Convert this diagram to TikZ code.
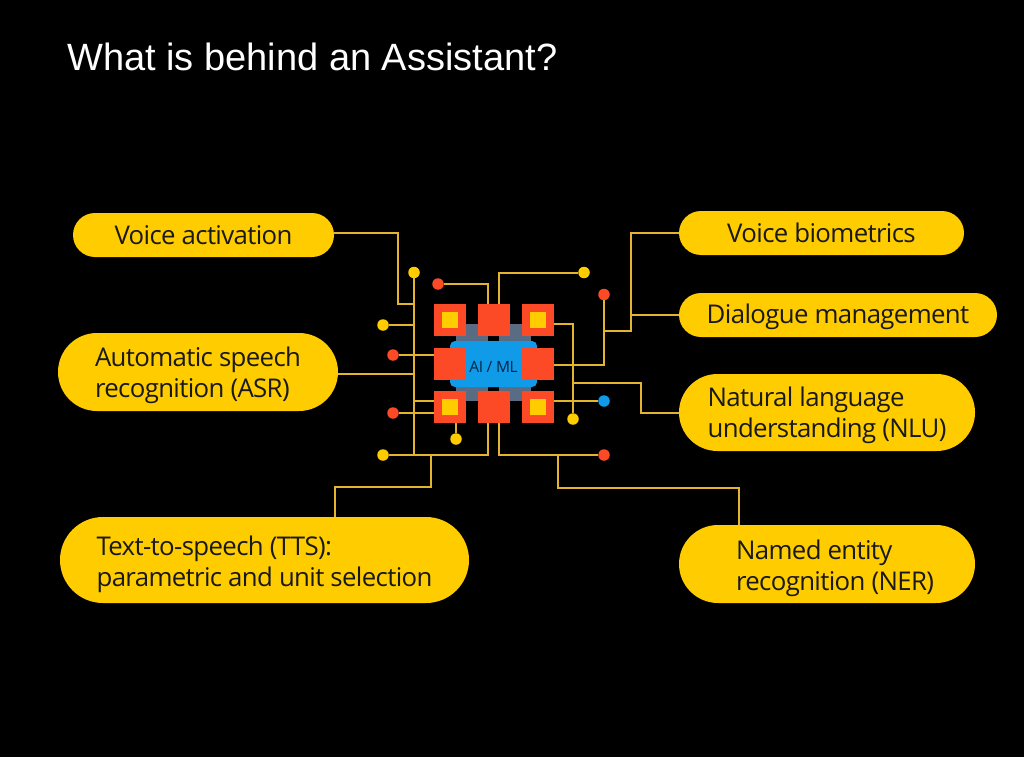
\documentclass[tikz,border=0pt]{standalone}
\usepackage{fontspec}
\setmainfont{Liberation Sans}
\newfontfamily\pillfont[LetterSpace=-2.5]{Open Sans}
\usetikzlibrary{positioning,shapes.misc}
\definecolor{pillyellow}{HTML}{FFCC00}
\definecolor{chipred}{HTML}{FC4A26}
\definecolor{chipblue}{HTML}{0F9BE8}
\definecolor{chipgray}{HTML}{5A6C84}
\definecolor{wiregold}{HTML}{E3B52D}
\definecolor{labelnavy}{HTML}{0B2540}
\newcommand{\pilldrop}[1]{\rule{0pt}{#1}}
\tikzset{
  pill/.style={rounded rectangle, fill=pillyellow, inner sep=0pt, align=left, text=black!90,
    font=\pillfont\fontsize{25.8}{31}\selectfont},
  chip/.style={rectangle, fill=chipred, minimum size=32pt, inner sep=0pt},
  core/.style={rectangle, fill=pillyellow, minimum size=16pt, inner sep=0pt},
  pad/.style={circle, minimum size=11.5pt, inner sep=0pt},
  wire/.style={draw=wiregold, line width=2pt}
}
\begin{document}
\begin{tikzpicture}[x = 1pt, y = -1pt]
\fill[black] (0,0) rectangle (1024,757);
\useasboundingbox (0,0) rectangle (1024,757);
% Title
\node[anchor=base west, inner sep=0pt, text=white, font=\fontsize{38}{40}\selectfont] (title) at (67,71) {What is behind an Assistant?};
% Left pills
\node[pill, minimum width=261pt, minimum height=44pt] (activation) at (203.5,235) {Voice activation};
\node[pill, minimum width=280pt, minimum height=78pt] (asr) at (198,372) {\pilldrop{27pt}Automatic speech\\recognition (ASR)};
\node[pill, minimum width=409pt, minimum height=86pt] (tts) at (264.5,560) {\pilldrop{28pt}Text-to-speech (TTS):\\parametric and unit selection};
% Right pills
\node[pill, minimum width=285pt, minimum height=44pt] (biometrics) at (821.5,233) {Voice biometrics};
\node[pill, minimum width=318pt, minimum height=44pt] (dialogue) at (838,315) {\pilldrop{23pt}Dialogue management};
\node[pill, minimum width=296pt, minimum height=77pt] (nlu) at (827,412.5) {\pilldrop{26pt}Natural language\\understanding (NLU)};
\node[pill, minimum width=296pt, minimum height=78pt] (ner) at (827,564) {\pilldrop{29pt}\hspace*{16pt}Named entity\\\hspace*{16pt}recognition (NER)};
% Chip body
\fill[chipgray] (456,324) rectangle (531,401);
\fill[black] (488,336) rectangle (499,341);
\fill[black] (488,387) rectangle (499,391);
\node[rectangle, rounded corners=5pt, fill=chipblue, minimum width=87pt, minimum height=46pt, inner sep=0pt, text=labelnavy, font=\pillfont\fontsize{15.5}{18}\selectfont] (ai) at (493.5,364) {\pilldrop{17pt}AI / ML};
% Chip squares
\node[chip] (topleft) at (450,320) {};
\node[chip] (topmid) at (493.5,320) {};
\node[chip] (topright) at (537.5,320) {};
\node[chip] (midleft) at (450,364) {};
\node[chip] (midright) at (537.5,364) {};
\node[chip] (botleft) at (450,407) {};
\node[chip] (botmid) at (493.5,407) {};
\node[chip] (botright) at (537.5,407) {};
\node[core] at (topleft) {};
\node[core] at (topright) {};
\node[core] at (botleft) {};
\node[core] at (botright) {};
% Pads
\node[pad, fill=pillyellow] (padA) at (414,272.5) {};
\node[pad, fill=chipred] (padB) at (438,284) {};
\node[pad, fill=pillyellow] (padC) at (584,272.5) {};
\node[pad, fill=chipred] (padD) at (604,294.5) {};
\node[pad, fill=pillyellow] (padE) at (383,325) {};
\node[pad, fill=chipred] (padF) at (393,355) {};
\node[pad, fill=chipred] (padG) at (393,413) {};
\node[pad, fill=pillyellow] (padH) at (456,439) {};
\node[pad, fill=pillyellow] (padI) at (573,419) {};
\node[pad, fill=chipblue] (padJ) at (604,401) {};
\node[pad, fill=pillyellow] (padK) at (383,455) {};
\node[pad, fill=chipred] (padL) at (604,455) {};
% Left bus
\draw[wire] (padA) -- (padA |- padK);
\draw[wire] (padE) -- (padE -| padA);
\draw[wire] (padF) -- (padF -| midleft.west);
\draw[wire] (padG) -- (padG -| botleft.west);
\draw[wire] (padA |- 0,401) -- (botleft.west |- 0,401);
\draw[wire] (asr.east |- 0,373.5) -- (padA |- 0,373.5);
\draw[wire] (activation.east |- 0,233) -| (398,304) -- (padA |- 0,304);
% Bottom wires
\draw[wire] (padK) -- (488,455) -- (488,423);
\draw[wire] (431,455) -- (431,487) -| (tts.north -| 335,0);
\draw[wire] (padH) -- (padH |- botleft.south);
\draw[wire] (499,423) -- (499,455) -- (padL);
\draw[wire] (558,455) -- (558,488) -| (ner.north -| 739,0);
% Top wires
\draw[wire] (padB) -| (488,304);
\draw[wire] (499,304) |- (padC);
% Right wires
\draw[wire] (topright.east |- 0,323.7) -| (padI);
\draw[wire] (midright.east |- 0,364.5) -| (padD);
\draw[wire] (botright.east |- padJ) -- (padJ);
\draw[wire] (604,330.5) -| (631,233) -- (biometrics.west);
\draw[wire] (631,315) -- (dialogue.west);
\draw[wire] (573,383) -| (641,413) -- (nlu.west |- 0,413);
\end{tikzpicture}
\end{document}
